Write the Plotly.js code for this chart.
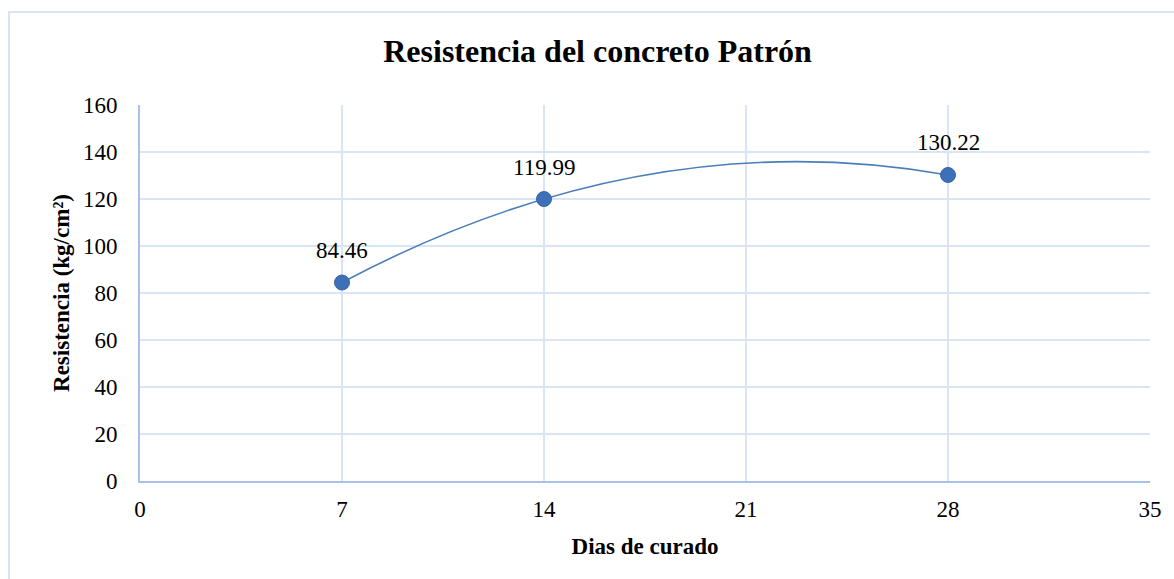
<!DOCTYPE html>
<html>
<head>
<meta charset="utf-8">
<script src="https://cdn.plot.ly/plotly-3.0.1.min.js"></script>
<style>
html,body{margin:0;padding:0;background:#fff;}
#chart{width:1174px;height:579px;}
#frame{position:absolute;left:8px;top:11px;width:1200px;height:600px;border-left:2px solid #d8e3f3;border-top:2px solid #d8e3f3;pointer-events:none;}
</style>
</head>
<body>
<div id="chart"></div>
<div id="frame"></div>
<script>
var days = [7, 14, 28];
var resistance = [84.46, 119.99, 130.22];
var labels = ['84.46', '119.99', '130.22'];
var xTicks = [0, 7, 14, 21, 28, 35];
var yTicks = [0, 20, 40, 60, 80, 100, 120, 140, 160];

var serif = 'Liberation Serif, Times New Roman, serif';

// Smooth curve through the three points: the parabola through them,
// expressed as one quadratic Bezier segment in data coordinates.
var x0 = days[0], x1 = days[1], x2 = days[2];
var y0 = resistance[0], y1 = resistance[1], y2 = resistance[2];
var h1 = x1 - x0, h2 = x2 - x1;
var s1 = (y1 - y0) / h1, s2 = (y2 - y1) / h2;
var slope0 = s1 + (s1 - s2) * h1 / (h1 + h2);
var cx = (x0 + x2) / 2;
var cy = y0 + slope0 * (cx - x0);
var curvePath = 'M ' + x0 + ',' + y0 + ' Q ' + cx + ',' + cy + ' ' + x2 + ',' + y2;

var trace = {
  x: days,
  y: resistance,
  mode: 'markers',
  type: 'scatter',
  marker: {size: 15, color: '#3d70b7', line: {color: '#3565a8', width: 1}},
  hoverinfo: 'x+y'
};

var labelAnnotations = days.map(function (d, i) {
  return {
    x: d, y: resistance[i], xref: 'x', yref: 'y',
    text: labels[i], showarrow: false,
    xanchor: 'center', yanchor: 'middle', yshift: 32,
    font: {family: serif, size: 23, color: '#000'}
  };
});

var layout = {
  width: 1174, height: 579,
  margin: {l: 140, r: 24, t: 105, b: 98},
  paper_bgcolor: '#fff', plot_bgcolor: '#fff',
  showlegend: false,
  title: {text: '<b>Resistencia del concreto Patrón</b>', font: {family: serif, size: 32, color: '#000'}, x: 0.509, xanchor: 'center', xref: 'container', y: 0.912, yanchor: 'middle', yref: 'container'},
  shapes: [{
    type: 'path', xref: 'x', yref: 'y', path: curvePath,
    line: {color: '#4a7ebb', width: 1.6}, layer: 'between'
  }],
  annotations: labelAnnotations,
  xaxis: {
    range: [0, 35], tickvals: xTicks, ticktext: xTicks.map(String),
    showgrid: true, gridcolor: '#d9e4f4', gridwidth: 1.5,
    showline: true, linecolor: '#a8c1e8', linewidth: 2,
    zeroline: false, ticks: 'outside', ticklen: 6, tickcolor: 'rgba(0,0,0,0)',
    tickfont: {family: serif, size: 23, color: '#000'},
    title: {text: '<b>Dias de curado</b>', font: {family: serif, size: 23, color: '#000'}, standoff: 17}
  },
  yaxis: {
    range: [0, 160], tickvals: yTicks, ticktext: yTicks.map(String),
    showgrid: true, gridcolor: '#d9e4f4', gridwidth: 1.5,
    showline: true, linecolor: '#a8c1e8', linewidth: 2,
    zeroline: false, ticks: 'outside', ticklen: 16, tickcolor: 'rgba(0,0,0,0)',
    tickfont: {family: serif, size: 23, color: '#000'},
    title: {text: '<b>Resistencia (kg/cm²)</b>', font: {family: serif, size: 23, color: '#000'}, standoff: 7}
  }
};

Plotly.newPlot('chart', [trace], layout, {displayModeBar: false, staticPlot: true});
</script>
</body>
</html>
